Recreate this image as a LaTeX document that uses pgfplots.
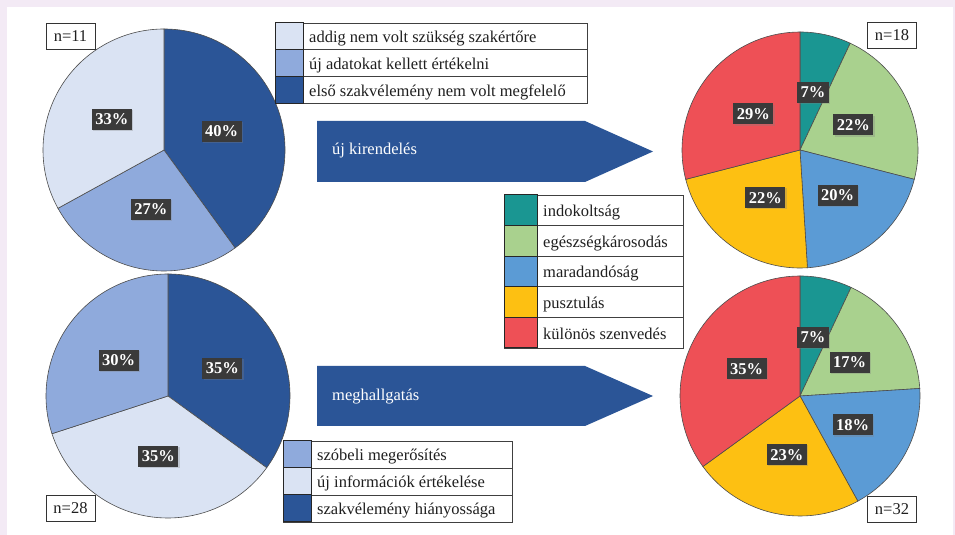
\documentclass[border=0pt]{standalone}
\usepackage{pgfplots}
\pgfplotsset{compat=1.18}
\usepackage{pgfplotstable}
\usepackage{fontspec}
\setmainfont{Liberation Serif}
\usetikzlibrary{shadows}

\definecolor{dblue}{RGB}{43,85,151}
\definecolor{mblue}{RGB}{143,170,220}
\definecolor{lblue}{RGB}{218,227,243}
\definecolor{teal1}{RGB}{26,150,146}
\definecolor{green1}{RGB}{169,209,142}
\definecolor{blue1}{RGB}{91,155,213}
\definecolor{yellow1}{RGB}{253,192,18}
\definecolor{red1}{RGB}{238,80,86}
\definecolor{lab}{RGB}{58,58,58}
\definecolor{frame}{RGB}{243,234,245}

\tikzset{
  txt/.style={font=\fontsize{16.5}{19}\selectfont, text=black!88},
  pct/.style={fill=lab, text=white, font=\bfseries\fontsize{16.5}{18}\selectfont,
    inner xsep=3.5pt, inner ysep=0pt, minimum height=21pt,
    text height=11.5pt, text depth=0.5pt,
    drop shadow={shadow xshift=1.2pt, shadow yshift=-1.2pt, opacity=0.3}},
}

% pie data (percent, colour)
\pgfplotstableread{
p c
40 dblue
27 mblue
33 lblue
}\pieA
\pgfplotstableread{
p c
7 teal1
22 green1
20 blue1
22 yellow1
29 red1
}\pieB
\pgfplotstableread{
p c
35 dblue
35 lblue
30 mblue
}\pieC
\pgfplotstableread{
p c
7 teal1
17 green1
18 blue1
23 yellow1
35 red1
}\pieD

% #1 table, #2 cx, #3 cy, #4 radius; slices clockwise from 12 o'clock
\newcommand\drawpie[4]{%
  \pgfplotstablegetrowsof{#1}%
  \pgfmathtruncatemacro\last{\pgfplotsretval-1}%
  \gdef\cum{0}%
  \foreach \i in {0,...,\last}{%
    \pgfplotstablegetelem{\i}{p}\of{#1}\let\pv\pgfplotsretval
    \pgfplotstablegetelem{\i}{c}\of{#1}\let\cv\pgfplotsretval
    \pgfmathsetmacro\sa{90-3.6*\cum}%
    \pgfmathsetmacro\ea{90-3.6*(\cum+\pv)}%
    \fill[fill=\cv, draw=black!70, line width=0.6pt] (axis cs:#2,#3) -- ++(\sa:#4pt)
      arc[start angle=\sa, end angle=\ea, radius=#4pt] -- cycle;
    \pgfmathsetmacro\nc{\cum+\pv}\global\let\cum\nc
  }%
  \gdef\cum{0}%
  \foreach \i in {0,...,\last}{%
    \pgfplotstablegetelem{\i}{p}\of{#1}\let\pv\pgfplotsretval
    \pgfmathsetmacro\ma{90-3.6*(\cum+\pv/2)}%
    \pgfmathsetmacro\lx{#2+0.5*#4*cos(\ma)}%
    \pgfmathsetmacro\ly{#3+0.5*#4*sin(\ma)}%
    \node[pct] at (axis cs:\lx,\ly) {\pv\%};
    \pgfmathsetmacro\nc{\cum+\pv}\global\let\cum\nc
  }%
}

% #1 x0, #2 ytop, #3 x1, #4 square right edge, #5 row height, #6 colour/text list
\newcommand\legendbox[6]{%
  \foreach \c/\t [count=\k] in {#6}{%
    \pgfmathsetmacro\ya{#2-(\k-1)*#5}%
    \pgfmathsetmacro\yb{#2-\k*#5}%
    \pgfmathsetmacro\yt{#2-(\k-0.5)*#5-6.5}%
    \pgfmathsetmacro\xt{#4+6}%
    \draw[black!75, line width=0.8pt, fill=white] (axis cs:#1,\yb) rectangle (axis cs:#3,\ya);
    \draw[black!85, line width=1pt, fill=\c] (axis cs:#1,\yb) rectangle (axis cs:#4,\ya);
    \node[txt, anchor=base west, inner sep=0pt] at (axis cs:\xt,\yt) {\t};
  }%
}

\begin{document}
\begin{tikzpicture}
\begin{axis}[x=1pt, y=1pt, xmin=0, xmax=955, ymin=0, ymax=535,
  hide axis, clip=false]
\pgfplotsextra{
  \fill[frame] (axis cs:0,0) rectangle (axis cs:955,535);
  \fill[white] (axis cs:7,0) rectangle (axis cs:953,528);

  % arrows
  \fill[dblue] (axis cs:317,353) -- (axis cs:585,353) -- (axis cs:653,383.5)
    -- (axis cs:585,414) -- (axis cs:317,414) -- cycle;
  \node[txt, text=white, anchor=base west, inner sep=0pt] at (axis cs:332,380) {új kirendelés};
  \fill[dblue] (axis cs:317,109) -- (axis cs:585,109) -- (axis cs:653,139)
    -- (axis cs:585,169) -- (axis cs:317,169) -- cycle;
  \node[txt, text=white, anchor=base west, inner sep=0pt] at (axis cs:332,134) {meghallgatás};

  \drawpie{\pieA}{164}{385}{121}
  \drawpie{\pieB}{800}{385}{118}
  \drawpie{\pieC}{168}{139}{122}
  \drawpie{\pieD}{800}{139}{120}

  \legendbox{275}{512}{587}{303}{26.67}{lblue/addig nem volt szükség szakértőre,
    mblue/új adatokat kellett értékelni, dblue/első szakvélemény nem volt megfelelő}
  \legendbox{504}{340}{683}{537}{30.6}{teal1/indokoltság, green1/egészségkárosodás,
    blue1/maradandóság, yellow1/pusztulás, red1/különös szenvedés}
  \legendbox{283}{94}{512}{311}{27}{mblue/szóbeli megerősítés,
    lblue/új információk értékelése, dblue/szakvélemény hiányossága}

  \tikzset{nbox/.style={txt, draw=black!80, fill=white, line width=0.8pt,
    minimum width=49pt, minimum height=26pt, inner sep=0pt}}
  \node[nbox] at (axis cs:70.5,499) {n=11};
  \node[nbox] at (axis cs:892,499.5) {n=18};
  \node[nbox] at (axis cs:70.5,26.5) {n=28};
  \node[nbox] at (axis cs:892,25.5) {n=32};
}
\end{axis}
\end{tikzpicture}
\end{document}
